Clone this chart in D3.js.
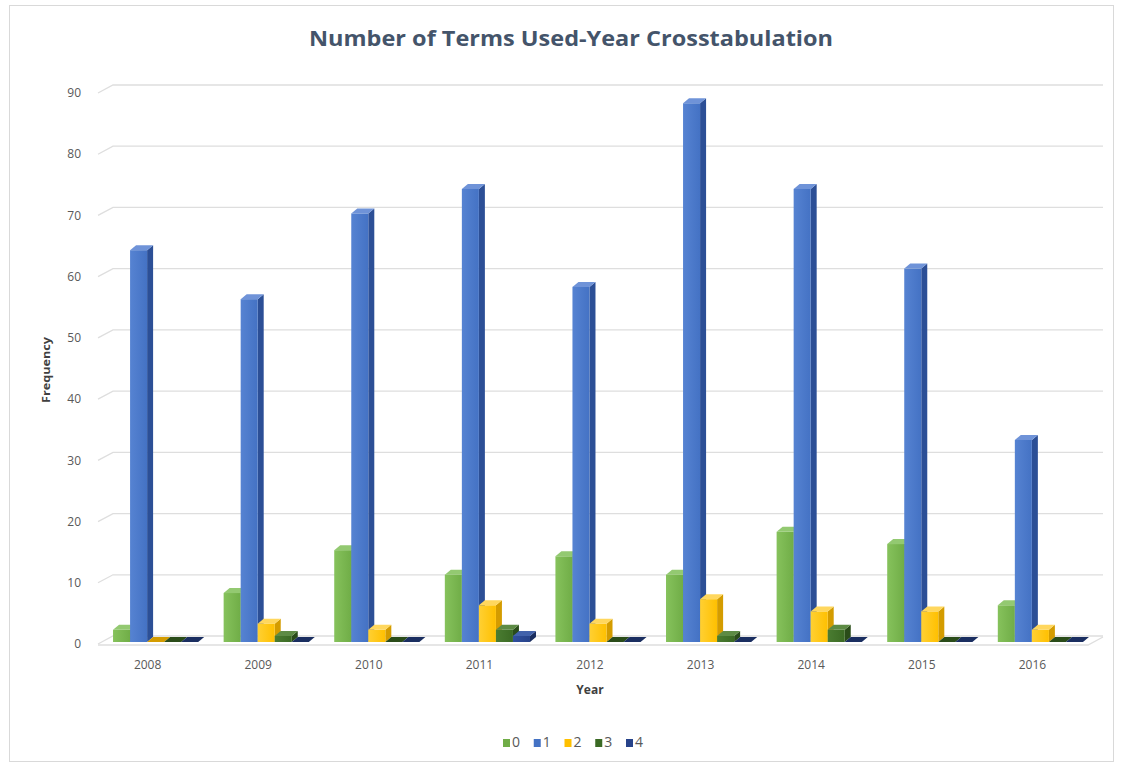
<!DOCTYPE html>
<html>
<head>
<meta charset="utf-8">
<script src="https://cdn.jsdelivr.net/npm/d3@7"></script>
<style>
  html, body { margin: 0; padding: 0; background: #fff; }
  svg { display: block; }
  text { font-family: "Open Sans", "Liberation Sans", sans-serif; }
</style>
</head>
<body>
<svg id="chart" width="1125" height="766"></svg>
<script>
// Frequencies by year for each "number of terms used" group
const years = ["2008", "2009", "2010", "2011", "2012", "2013", "2014", "2015", "2016"];
const seriesNames = ["0", "1", "2", "3", "4"];
const terms0 = [2, 8, 15, 11, 14, 11, 18, 16, 6];
const terms1 = [64, 56, 70, 74, 58, 88, 74, 61, 33];
const terms2 = [0, 3, 2, 6, 3, 7, 5, 5, 2];
const terms3 = [0, 1, 0, 2, 0, 1, 2, 0, 0];
const terms4 = [0, 0, 0, 1, 0, 0, 0, 0, 0];
const yTicks = [0, 10, 20, 30, 40, 50, 60, 70, 80, 90];

const seriesValues = [terms0, terms1, terms2, terms3, terms4];

// face colours per series: front, side, top
const palette = [
  { front: "#70ad47", light: "#86c25c", side: "#4e8a2c", top: "#93c971" },
  { front: "#4472c4", light: "#5683d2", side: "#2c4f96", top: "#6f93d8" },
  { front: "#ffc000", light: "#ffd033", side: "#d49c00", top: "#ffd75e" },
  { front: "#3b6a24", light: "#4a7c31", side: "#2a4c19", top: "#5d8b44" },
  { front: "#27438a", light: "#30509e", side: "#1a2e60", top: "#4262ab" }
];

const svg = d3.select("#chart");
const W = 1125, H = 766;

// outer chart border
svg.append("rect")
  .attr("x", 9.5).attr("y", 5.5).attr("width", 1104).attr("height", 756)
  .attr("fill", "#fff").attr("stroke", "#d9d9d9").attr("stroke-width", 1);

// gradients for front faces
const defs = svg.append("defs");
palette.forEach((p, i) => {
  const g = defs.append("linearGradient").attr("id", "g" + i)
    .attr("x1", "0").attr("y1", "0").attr("x2", "1").attr("y2", "0");
  g.append("stop").attr("offset", "0%").attr("stop-color", p.light);
  g.append("stop").attr("offset", "100%").attr("stop-color", p.front);
});

// scales
const y = d3.scaleLinear().domain([0, 90]).range([642, 91]);
const x0 = d3.scaleBand().domain(years).range([87.6, 1108.4]).padding(0.23);
const x1 = d3.scaleBand().domain(seriesNames).range([0, x0.bandwidth()]).padding(0);

// back wall offset and bar depth
const wall = { dx: 15, dy: -8 };
const depth = { dx: 6, dy: -5 };
const leftX = 98, rightX = 1103;

// gridlines (floor edge + back wall lines)
const grid = svg.append("g");
yTicks.forEach(v => {
  const yf = y(v) + 2;
  grid.append("path")
    .attr("d", `M${leftX},${yf} L${leftX + wall.dx},${yf + wall.dy} L${rightX},${yf + wall.dy}`)
    .attr("fill", "none").attr("stroke", "#dedede").attr("stroke-width", 1.3);
});
// front floor edge
grid.append("path")
  .attr("d", `M${leftX},${y(0) + 3} L${rightX - wall.dx},${y(0) + 3} L${rightX},${y(0) + 3 + wall.dy}`)
  .attr("fill", "none").attr("stroke", "#dedede").attr("stroke-width", 1.3);

// y tick labels
svg.append("g").selectAll("text").data(yTicks).join("text")
  .attr("x", 81).attr("y", d => y(d) + 3)
  .attr("text-anchor", "end").attr("dominant-baseline", "middle")
  .attr("font-size", 12).attr("fill", "#595959")
  .text(d => d);

// x category labels
svg.append("g").selectAll("text").data(years).join("text")
  .attr("x", d => x0(d) + x0.bandwidth() / 2 - 8).attr("y", 666)
  .attr("text-anchor", "middle").attr("dominant-baseline", "middle")
  .attr("font-size", 12).attr("fill", "#595959")
  .text(d => d);

// 3D bars
const bars = svg.append("g");
years.forEach((yr, i) => {
  seriesNames.forEach((s, j) => {
    const v = seriesValues[j][i];
    const p = palette[j];
    const bx = x0(yr) + x1(s);
    const bw = x1.bandwidth();
    const yb = y(0), yt = y(v);
    const g = bars.append("g");
    // right side face
    g.append("path")
      .attr("d", `M${bx + bw},${yt} L${bx + bw + depth.dx},${yt + depth.dy} L${bx + bw + depth.dx},${yb + depth.dy} L${bx + bw},${yb} Z`)
      .attr("fill", p.side);
    // front face
    if (v > 0) {
      g.append("rect")
        .attr("x", bx).attr("y", yt).attr("width", bw).attr("height", yb - yt)
        .attr("fill", `url(#g${j})`);
    }
    // top face
    g.append("path")
      .attr("d", `M${bx},${yt} L${bx + depth.dx},${yt + depth.dy} L${bx + bw + depth.dx},${yt + depth.dy} L${bx + bw},${yt} Z`)
      .attr("fill", v > 0 ? p.top : p.side);
  });
});

// title
svg.append("text")
  .attr("x", 571).attr("y", 40)
  .attr("text-anchor", "middle").attr("dominant-baseline", "middle")
  .attr("font-size", 22).attr("font-weight", "bold").attr("fill", "#44546a")
  .attr("textLength", 524).attr("lengthAdjust", "spacingAndGlyphs")
  .text("Number of Terms Used-Year Crosstabulation");

// axis titles
svg.append("text")
  .attr("transform", "translate(47,370) rotate(-90)")
  .attr("text-anchor", "middle").attr("dominant-baseline", "middle")
  .attr("font-size", 11).attr("font-weight", "bold").attr("fill", "#404040")
  .attr("textLength", 66).attr("lengthAdjust", "spacingAndGlyphs")
  .text("Frequency");

svg.append("text")
  .attr("x", 590).attr("y", 691)
  .attr("text-anchor", "middle").attr("dominant-baseline", "middle")
  .attr("font-size", 12).attr("font-weight", "bold").attr("fill", "#404040")
  .text("Year");

// legend
const legend = svg.append("g");
const legendX = d3.scalePoint().domain(seriesNames).range([503, 626]);
seriesNames.forEach((s, j) => {
  const lx = legendX(s);
  legend.append("rect")
    .attr("x", lx).attr("y", 739).attr("width", 7).attr("height", 8)
    .attr("fill", palette[j].front);
  legend.append("text")
    .attr("x", lx + 9).attr("y", 743.5)
    .attr("dominant-baseline", "middle")
    .attr("font-size", 14).attr("fill", "#595959")
    .text(s);
});
</script>
</body>
</html>
